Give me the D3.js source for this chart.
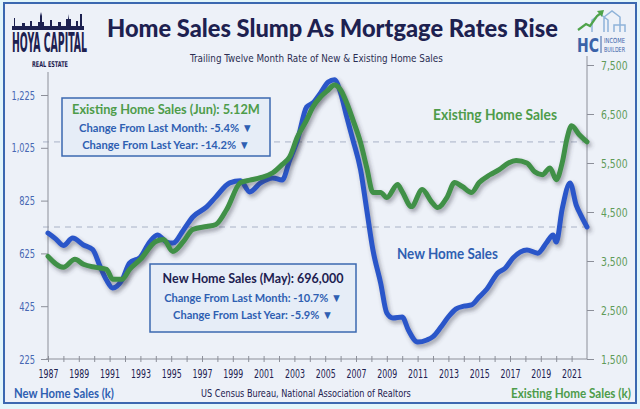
<!DOCTYPE html>
<html><head><meta charset="utf-8">
<script src="https://cdn.jsdelivr.net/npm/d3@7/dist/d3.min.js"></script>
<style>
html,body{margin:0;padding:0;background:#e2f6fb;}
svg{display:block;}
</style></head>
<body>
<svg id="chart" width="640" height="409"></svg>
<script>
// ---------------- DATA ----------------
const newDates = [1987.0,1987.5,1988.0,1988.6,1989.3,1989.9,1990.4,1990.8,1991.2,1991.8,1992.3,1993.0,1993.6,1994.1,1994.7,1995.1,1995.8,1996.4,1997.3,1997.9,1998.8,1999.5,2000.1,2000.8,2001.6,2002.2,2002.7,2003.2,2003.8,2004.2,2004.7,2005.2,2005.6,2006.0,2006.4,2006.8,2007.3,2007.7,2008.1,2008.6,2009.0,2009.4,2010.0,2010.4,2011.0,2011.6,2012.0,2012.5,2013.0,2013.5,2014.0,2014.5,2015.0,2015.5,2016.2,2016.7,2017.2,2018.1,2018.8,2019.4,2019.8,2020.0,2020.4,2020.9,2021.3,2021.6,2022.0];
const newValues = [702,680,655,683,657,640,573,524,494,524,589,611,668,695,668,664,714,763,801,839,892,900,858,892,911,903,979,1055,1180,1195,1233,1274,1283,1233,1142,1055,941,789,638,513,399,380,384,335,289,297,310,345,385,415,425,430,460,490,551,570,608,638,626,668,695,668,797,892,808,770,725];

const existingDates = [1987.0,1988.0,1988.75,1989.3,1990.1,1990.8,1991.2,1991.8,1992.3,1993.0,1994.0,1994.5,1995.1,1995.8,1996.4,1997.3,1997.9,1998.6,1999.5,2000.1,2000.8,2001.6,2002.2,2002.7,2003.2,2003.8,2004.2,2004.7,2005.2,2005.6,2006.0,2006.4,2006.8,2007.3,2007.7,2008.1,2008.6,2009.0,2009.7,2010.0,2010.6,2011.3,2011.9,2012.3,2012.9,2013.4,2013.9,2014.5,2015.0,2015.7,2016.3,2016.9,2017.4,2018.1,2018.6,2019.1,2019.6,2020.0,2020.4,2020.7,2021.0,2021.5,2022.0];
const existingValues = [3595,3371,3534,3432,3371,3330,3127,3127,3330,3534,3900,3940,3696,3900,4144,4205,4245,4550,5100,5150,5200,5300,5466,5630,6035,6380,6645,6850,6990,7090,6990,6725,6380,5910,5400,4900,4900,4795,5060,4915,4610,4960,4710,4590,4795,5100,5020,4900,5100,5260,5365,5500,5550,5500,5320,5260,5400,5160,5520,6000,6260,6075,5930];

const leftTicks = [225,425,625,825,1025,1225];
const rightTicks = [1500,2500,3500,4500,5500,6500,7500];
const yearTicks = d3.range(1987, 2022);
const yearLabels = d3.range(1987, 2022, 2);

const titleText = "Home Sales Slump As Mortgage Rates Rise";
const subtitleText = "Trailing Twelve Month Rate of New & Existing Home Sales";
const sourceText = "US Census Bureau, National Association of Realtors";
const box1Lines = ["Existing Home Sales (Jun): 5.12M","Change From Last Month: -5.4% \u25BC","Change From Last Year: -14.2% \u25BC"];
const box2Lines = ["New Home Sales (May): 696,000","Change From Last Month: -10.7% \u25BC","Change From Last Year: -5.9% \u25BC"];

// ---------------- STYLE ----------------
const C = {
  bg:"#edf1f8", frame:"#3b68b0", navy:"#1d2150", blue:"#2c56c9", green:"#3f9046",
  blueText:"#2f5fb2", greenText:"#4e9c4a", axis:"#8c8f99", grid:"#a9b2c6",
  tickL:"#4767b3", tickR:"#5f9b58", boxFill:"#e6edf7"
};
const condensed = "'DejaVu Sans Condensed','DejaVu Sans',sans-serif";
const boldF = "Lato,'Open Sans',sans-serif";

const svg = d3.select("#chart");

function fit(sel, x, y, width) {
  const w = sel.node().getComputedTextLength();
  const s = w > 0 ? width / w : 1;
  sel.attr("x", 0).attr("y", 0).attr("transform", `translate(${x},${y}) scale(${s},1)`);
  return sel;
}
function addText(parent, str, x, y, width, font, size, weight, color, anchor) {
  const t = parent.append("text").text(str).attr("font-family", font).attr("font-size", size)
    .attr("font-weight", weight).attr("fill", color).attr("text-anchor", anchor || "start");
  return fit(t, x, y, width);
}

svg.append("rect").attr("x",4).attr("y",3).attr("width",632).attr("height",400)
  .attr("fill",C.bg).attr("stroke",C.frame).attr("stroke-width",2);

const defs = svg.append("defs");
const f = defs.append("filter").attr("id","shadow").attr("x","-10%").attr("y","-10%").attr("width","130%").attr("height","130%");
f.append("feDropShadow").attr("dx",2).attr("dy",3).attr("stdDeviation",2)
  .attr("flood-color","#3a3a4a").attr("flood-opacity",0.45);

// ---------------- SCALES ----------------
const x = d3.scaleLinear().domain([1987, 2022]).range([48, 587]);
const yL = d3.scaleLinear().domain([225, 1225]).range([359, 95]);
const yR = d3.scaleLinear().domain([1500, 7500]).range([359, 65]);

// ---------------- TITLES ----------------
addText(svg, titleText, 107, 37, 451, boldF, 25, 900, C.navy);
addText(svg, subtitleText, 190, 62, 253, condensed, 11, 400, "#2b2e52");

// ---------------- LOGOS ----------------
const hoya = svg.append("g");
hoya.append("path").attr("fill",C.navy).attr("d",
  "M12,30 L12,26 L14,26 L14,18 L15,18 L15,26 L22,26 L22,23 L25,23 L25,26 L30,26 L30,21 L32,21 L32,26 L38,26 L38,22 L40,22 L40,16 L41,12 L42,16 L42,22 L44,22 L44,26 L50,26 L50,20 L52,20 L52,26 L58,26 L58,22 L61,22 L61,26 L66,26 L66,19 L68,19 L68,14 L69,19 L71,19 L71,26 L76,26 L76,21 L78,21 L78,26 L80,26 L80,14 L82,14 L82,26 L84,26 L84,30 Z");
addText(hoya, "HOYA CAPITAL", 12, 52, 75, condensed, 26, 700, C.navy);
addText(hoya, "REAL ESTATE", 32, 67, 36, condensed, 8, 700, C.navy);

const hc = svg.append("g");
hc.append("path").attr("fill","none").attr("stroke","#8fb3d9").attr("stroke-width",1.5)
  .attr("d","M592,32 L592,20 L600,14 L608,20 L608,32 M604,32 L604,17 L612,11 L620,17 L620,32 M614,32 L614,25 L625,25 L625,32");
hc.append("path").attr("fill","none").attr("stroke","#4fa34a").attr("stroke-width",2.2)
  .attr("d","M578,30 L586,24 L590,26 L597,16 L601,13");
hc.append("path").attr("fill","#4fa34a").attr("d","M597,11 L604,10 L602,17 Z");
addText(hc, "HC", 577, 52, 22, condensed, 20, 700, "#3a62a8");
hc.append("line").attr("x1",601).attr("x2",601).attr("y1",36).attr("y2",53).attr("stroke","#3a62a8").attr("stroke-width",1);
addText(hc, "INCOME", 604, 43, 21, condensed, 7, 400, "#3a62a8");
addText(hc, "BUILDER", 604, 52, 21, condensed, 7, 400, "#3a62a8");

// ---------------- AXES ----------------
const lastNew = newValues[newValues.length-1];
const lastExisting = existingValues[existingValues.length-1];
svg.append("line").attr("x1",43).attr("x2",587).attr("y1",yR(lastExisting)).attr("y2",yR(lastExisting))
  .attr("stroke",C.grid).attr("stroke-width",1).attr("stroke-dasharray","6,5");
svg.append("line").attr("x1",43).attr("x2",587).attr("y1",yL(lastNew)).attr("y2",yL(lastNew))
  .attr("stroke",C.grid).attr("stroke-width",1).attr("stroke-dasharray","6,5");

svg.append("line").attr("x1",48).attr("x2",48).attr("y1",72).attr("y2",359).attr("stroke",C.axis).attr("stroke-width",1);
svg.append("line").attr("x1",587).attr("x2",587).attr("y1",56).attr("y2",359).attr("stroke",C.axis).attr("stroke-width",1);

function labelWidth(s, dw, cw) {
  return s.split("").reduce((a, ch) => a + (ch === "," ? cw : dw), 0);
}

const gL = svg.append("g").attr("transform","translate(48,0)")
  .call(d3.axisLeft(yL).tickValues(leftTicks).tickSize(7).tickPadding(6).tickFormat(d3.format(",")));
gL.select(".domain").remove();
gL.selectAll("line").attr("stroke",C.axis);
gL.selectAll("text").attr("font-family",condensed).attr("font-size",12.5).attr("fill",C.tickL)
  .each(function(){
    const t = d3.select(this); const s = labelWidth(t.text(), 5.3, 2.4) / this.getComputedTextLength();
    t.attr("x",0).attr("transform",`translate(-13,0) scale(${s},1)`);
  });

const gR = svg.append("g").attr("transform","translate(587,0)")
  .call(d3.axisRight(yR).tickValues(rightTicks).tickSize(7).tickPadding(7).tickFormat(d3.format(",")));
gR.select(".domain").remove();
gR.selectAll("line").attr("stroke",C.axis);
gR.selectAll("text").attr("font-family",condensed).attr("font-size",13).attr("fill",C.tickR)
  .each(function(){
    const t = d3.select(this); const s = labelWidth(t.text(), 6.0, 2.6) / this.getComputedTextLength();
    t.attr("x",0).attr("transform",`translate(14,0) scale(${s},1)`);
  });

const gB = svg.append("g").attr("transform","translate(0,359)")
  .call(d3.axisBottom(x).tickValues(yearTicks).tickSize(3).tickFormat(d => yearLabels.includes(d) ? d : ""));
gB.select(".domain").attr("d","M46,0H587").attr("stroke",C.axis);
gB.selectAll(".tick line").attr("y1",-3).attr("y2",3).attr("stroke",C.axis);
gB.selectAll("text").attr("font-family",condensed).attr("font-size",12.5).attr("fill",C.navy)
  .each(function(){
    const t = d3.select(this); if (!t.text()) return;
    const s = 20 / this.getComputedTextLength();
    t.attr("y",0).attr("dy",0).attr("transform",`translate(0,19) scale(${s},1)`);
  });

// ---------------- LINES ----------------
const newData = newDates.map((d,i)=>[d,newValues[i]]);
const existingData = existingDates.map((d,i)=>[d,existingValues[i]]);
const lineNew = d3.line().x(d=>x(d[0])).y(d=>yL(d[1])).curve(d3.curveMonotoneX);
const lineEx = d3.line().x(d=>x(d[0])).y(d=>yR(d[1])).curve(d3.curveMonotoneX);

svg.append("path").datum(newData).attr("d",lineNew).attr("fill","none")
  .attr("stroke",C.blue).attr("stroke-width",5).attr("stroke-linejoin","round").attr("stroke-linecap","round")
  .attr("filter","url(#shadow)");
svg.append("path").datum(existingData).attr("d",lineEx).attr("fill","none")
  .attr("stroke",C.green).attr("stroke-width",5).attr("stroke-linejoin","round").attr("stroke-linecap","round")
  .attr("filter","url(#shadow)");

// ---------------- SERIES LABELS ----------------
addText(svg, "Existing Home Sales", 433, 120, 124, boldF, 16, 700, C.greenText);
addText(svg, "New Home Sales", 397, 259, 101, boldF, 16, 700, C.blueText);

// ---------------- ANNOTATION BOXES ----------------
function box(x0,y0,w,h,lines,ys,widths,colors,sizes){
  const g = svg.append("g");
  g.append("rect").attr("x",x0).attr("y",y0).attr("width",w).attr("height",h)
    .attr("fill",C.boxFill).attr("stroke",C.frame).attr("stroke-width",1.5);
  lines.forEach((t,i)=>{
    addText(g, t, x0+w/2, ys[i], widths[i], boldF, sizes[i], 700, colors[i], "middle");
  });
}
box(62,98,208,58,box1Lines,[114,132,149],[188,174,168],[C.greenText,C.blueText,C.blueText],[13.5,12,12]);
box(150,264,206,68,box2Lines,[283,302,319],[181,178,160],[C.navy,C.blueText,C.blueText],[13.5,12,12]);

// ---------------- FOOTER ----------------
addText(svg, "New Home Sales (k)", 14, 398, 100, boldF, 14, 700, C.blueText);
addText(svg, sourceText, 201, 397, 210, condensed, 11, 400, C.navy);
addText(svg, "Existing Home Sales (k)", 511, 398, 120, boldF, 14, 700, C.greenText);
</script>
</body></html>
